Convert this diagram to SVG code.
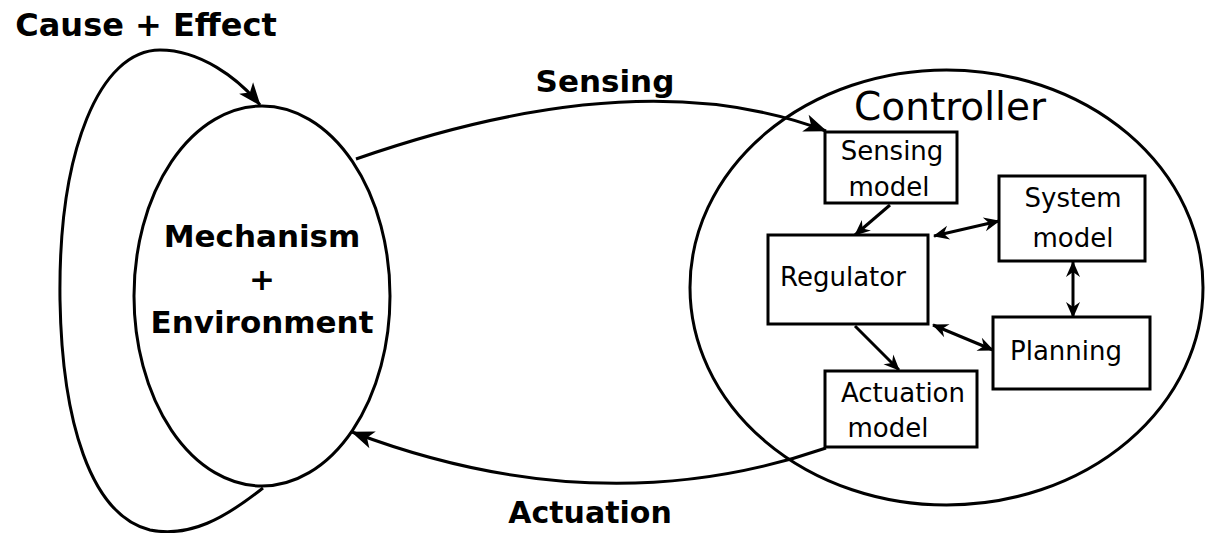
<svg xmlns="http://www.w3.org/2000/svg" width="1208" height="533" viewBox="0 0 1208 533">
<style>
.ln{fill:none;stroke:#000;stroke-width:3}
.box{fill:#fff;stroke:#000;stroke-width:3}
.big{font-family:"DejaVu Sans",sans-serif;font-weight:bold;font-size:31px;fill:#000;text-anchor:middle}
.ctl{font-family:"DejaVu Sans",sans-serif;font-size:39px;fill:#000;text-anchor:middle}
.sm{font-family:"DejaVu Sans",sans-serif;font-size:26px;fill:#000;text-anchor:middle}
</style>
<defs>
<marker id="ah" markerUnits="userSpaceOnUse" markerWidth="28" markerHeight="24" refX="24" refY="12" orient="auto" viewBox="0 0 28 24"><path d="M25,12 L2,3 L8,12 L2,21 Z" fill="#000"/></marker>
<marker id="as" markerUnits="userSpaceOnUse" markerWidth="18" markerHeight="16" refX="16" refY="8" orient="auto-start-reverse" viewBox="0 0 18 16"><path d="M17,8 L1,1 L6,8 L1,15 Z" fill="#000"/></marker>
</defs>

<g id="connectors">
<path class="ln" d="M263,488 C225,518 190,538 150,530 C90,515 62,420 60,300 C58,150 100,50 160,50 C200,50 238,78 260,105" marker-end="url(#ah)"/>
<path class="ln" d="M356,159 Q640,60 826,131" marker-end="url(#ah)"/>
<path class="ln" d="M826,448 Q600,526 352,432" marker-end="url(#ah)"/>
<path class="ln" d="M890,205 L855,235" marker-end="url(#as)"/>
<path class="ln" d="M934,236 L999,221" marker-start="url(#as)" marker-end="url(#as)"/>
<path class="ln" d="M1073,262 L1073,317" marker-start="url(#as)" marker-end="url(#as)"/>
<path class="ln" d="M933,325 L993,350" marker-start="url(#as)" marker-end="url(#as)"/>
<path class="ln" d="M855,326 L899,370" marker-end="url(#as)"/>
</g>

<g id="cause-effect-label"><text class="big" x="146" y="36" style="font-size:32px">Cause + Effect</text></g>
<g id="sensing-label"><text class="big" x="605" y="92">Sensing</text></g>
<g id="actuation-label"><text class="big" x="590" y="523" style="font-size:30px">Actuation</text></g>

<g id="environment">
<ellipse class="ln" cx="262" cy="296" rx="128" ry="190"/>
<text class="big" x="262" y="247">Mechanism</text>
<text class="big" x="262" y="290">+</text>
<text class="big" x="262" y="333">Environment</text>
</g>

<g id="controller">
<ellipse class="ln" cx="946.5" cy="287.5" rx="256.5" ry="217.5"/>
<text class="ctl" x="950" y="120">Controller</text>
</g>

<g id="sensing-model">
<rect class="box" x="825" y="132" width="132" height="71"/>
<text class="sm" x="892" y="160">Sensing</text>
<text class="sm" x="889" y="196">model</text>
</g>

<g id="system-model">
<rect class="box" x="999" y="176" width="146" height="85"/>
<text class="sm" x="1073" y="207">System</text>
<text class="sm" x="1073" y="247">model</text>
</g>

<g id="regulator">
<rect class="box" x="768" y="235" width="160" height="89"/>
<text class="sm" x="843" y="286">Regulator</text>
</g>

<g id="planning">
<rect class="box" x="993" y="317" width="157" height="72"/>
<text class="sm" x="1066" y="360">Planning</text>
</g>

<g id="actuation-model">
<rect class="box" x="825" y="371" width="152" height="76"/>
<text class="sm" x="903" y="402">Actuation</text>
<text class="sm" x="888" y="437">model</text>
</g>
</svg>
